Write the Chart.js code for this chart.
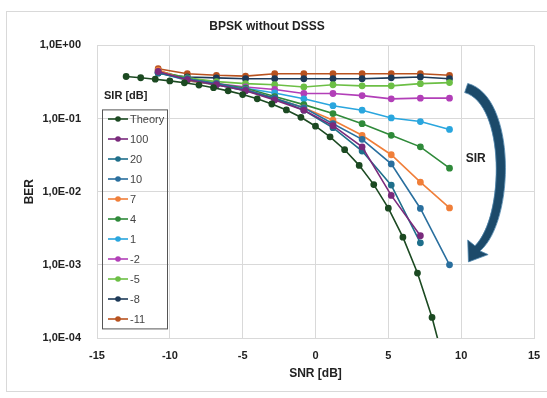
<!DOCTYPE html>
<html>
<head>
<meta charset="utf-8">
<script src="https://cdn.jsdelivr.net/npm/chart.js@4/dist/chart.umd.min.js"></script>
<style>
  html, body { margin: 0; padding: 0; background: #fff; }
  #wrap { position: relative; width: 547px; height: 398px; }
</style>
</head>
<body>
<div id="wrap"><canvas id="berChart" width="547" height="398"></canvas></div>
<script>
// SNR axis values
var snrTheory = [-13, -12, -11, -10, -9, -8, -7, -6, -5, -4, -3, -2, -1, 0, 1, 2, 3, 4, 5, 6, 7, 8, 9];
var snrSim = [-10.8, -8.8, -6.8, -4.8, -2.8, -0.8, 1.2, 3.2, 5.2, 7.2, 9.2];

// BER values
var berTheory = [0.376, 0.361, 0.345, 0.327, 0.308, 0.287, 0.264, 0.239, 0.213, 0.186, 0.158, 0.131, 0.104,
                 0.0786, 0.0563, 0.0375, 0.0229, 0.0125, 0.00595, 0.00239, 0.000773, 0.000191, 0.0000336];
var ber100 = [0.44, 0.34, 0.29, 0.24, 0.18, 0.13, 0.08, 0.041, 0.0089, 0.0025];
var ber20  = [0.42, 0.34, 0.29, 0.24, 0.19, 0.13, 0.075, 0.036, 0.0123, 0.002];
var ber10  = [0.42, 0.35, 0.30, 0.25, 0.19, 0.14, 0.085, 0.052, 0.024, 0.0059, 0.001];
var ber7   = [0.46, 0.33, 0.29, 0.25, 0.19, 0.14, 0.095, 0.059, 0.032, 0.0135, 0.006];
var ber4   = [0.45, 0.35, 0.30, 0.26, 0.20, 0.155, 0.117, 0.085, 0.059, 0.041, 0.021];
var ber1   = [0.43, 0.33, 0.29, 0.26, 0.224, 0.186, 0.15, 0.13, 0.102, 0.091, 0.071];
var berM2  = [0.43, 0.34, 0.30, 0.27, 0.25, 0.22, 0.22, 0.206, 0.186, 0.19, 0.19];
var berM5  = [0.44, 0.36, 0.32, 0.30, 0.29, 0.27, 0.29, 0.28, 0.28, 0.30, 0.31];
var berM8  = [0.42, 0.37, 0.36, 0.35, 0.35, 0.35, 0.35, 0.35, 0.36, 0.37, 0.35];
var berM11 = [0.48, 0.41, 0.39, 0.38, 0.41, 0.41, 0.41, 0.41, 0.41, 0.41, 0.39];

var yTicks = [1e-4, 1e-3, 1e-2, 1e-1, 1];

var seriesLabels = ['Theory', '100', '20', '10', '7', '4', '1', '-2', '-5', '-8', '-11'];
var seriesData = [berTheory, ber100, ber20, ber10, ber7, ber4, ber1, berM2, berM5, berM8, berM11];
var seriesColors = ['#1c4a22', '#7a2a7c', '#1f6f8b', '#2a6f9e', '#f07f3a', '#2f8a3a',
                     '#2aa6de', '#b23fb8', '#6cbf45', '#1d3a58', '#b8521f'];

var font = '"Liberation Sans", Arial, sans-serif';

function toPoints(xs, ys) {
    return ys.map(function(v, i) { return { x: xs[i], y: v }; });
}

var datasets = seriesLabels.map(function(label, i) {
    var xs = i === 0 ? snrTheory : snrSim;
    return {
        label: label,
        data: toPoints(xs, seriesData[i]),
        borderColor: seriesColors[i],
        backgroundColor: seriesColors[i],
        borderWidth: 1.6,
        pointRadius: 2.6,
        pointHoverRadius: 2.6,
        tension: 0
    };
});

function sciLabel(v) {
    var e = Math.round(Math.log10(v));
    var sign = e < 0 ? '-' : '+';
    var a = Math.abs(e);
    return '1,0E' + sign + (a < 10 ? '0' : '') + a;
}

// legend box, outer frame and SIR arrow
var decor = {
    id: 'decor',
    beforeDraw: function(chart) {
        var c = chart.ctx;
        c.save();
        c.strokeStyle = '#d9d9d9';
        c.lineWidth = 1;
        c.strokeRect(6.5, 11.5, 560, 380);
        c.restore();
    },
    afterDraw: function(chart) {
        var c = chart.ctx;
        var a = chart.chartArea;
        var xs = chart.scales.x, ys = chart.scales.y;
        c.save();

        // legend
        var bx = a.left + 5.5, by = a.top + 64.5;
        c.font = 'bold 11px ' + font;
        c.fillStyle = '#222';
        c.textAlign = 'left';
        c.textBaseline = 'middle';
        c.fillText('SIR [dB]', a.left + 7, a.top + 51);
        c.strokeStyle = '#555';
        c.lineWidth = 1;
        c.strokeRect(bx, by, 65, 219);
        c.font = '11px ' + font;
        chart.data.datasets.forEach(function(ds, i) {
            var yy = a.top + 73.6 + i * 20;
            c.strokeStyle = ds.borderColor;
            c.lineWidth = 1.6;
            c.beginPath();
            c.moveTo(a.left + 11, yy);
            c.lineTo(a.left + 31, yy);
            c.stroke();
            c.fillStyle = ds.borderColor;
            c.beginPath();
            c.arc(a.left + 21, yy, 2.8, 0, Math.PI * 2);
            c.fill();
            c.fillStyle = '#444';
            c.fillText(ds.label, a.left + 33, yy + 0.5);
        });

        // curved SIR arrow
        function P(db, lg) { return [xs.getPixelForValue(db), ys.getPixelForValue(Math.pow(10, lg))]; }
        var o0 = P(10.45, -0.52), o1 = P(13.8, -0.70), o2 = P(13.7, -2.40), o3 = P(11.3, -2.81);
        var i0 = P(10.24, -0.645), i1 = P(13.0, -0.80), i2 = P(13.0, -2.33), i3 = P(10.95, -2.74);
        var tip = P(10.5, -2.96), h1 = P(11.85, -2.86), h2 = P(10.45, -2.66);
        c.fillStyle = '#1c4a6a';
        c.strokeStyle = '#4f86ad';
        c.lineWidth = 0.8;
        c.beginPath();
        c.moveTo(o0[0], o0[1]);
        c.bezierCurveTo(o1[0], o1[1], o2[0], o2[1], o3[0], o3[1]);
        c.lineTo(h1[0], h1[1]);
        c.lineTo(tip[0], tip[1]);
        c.lineTo(h2[0], h2[1]);
        c.lineTo(i3[0], i3[1]);
        c.bezierCurveTo(i2[0], i2[1], i1[0], i1[1], i0[0], i0[1]);
        c.closePath();
        c.fill();
        c.stroke();

        c.fillStyle = '#222';
        c.font = 'bold 12px ' + font;
        c.textAlign = 'center';
        var lp = P(11.0, -1.55);
        c.fillText('SIR', lp[0], lp[1]);
        c.restore();
    }
};

var ctx = document.getElementById('berChart').getContext('2d');
new Chart(ctx, {
    type: 'line',
    data: { datasets: datasets },
    plugins: [decor],
    options: {
        responsive: false,
        animation: false,
        layout: { padding: { top: 1, right: 13, left: 0, bottom: 17 } },
        plugins: {
            legend: { display: false },
            tooltip: { enabled: false },
            title: {
                display: true,
                text: 'BPSK without DSSS',
                color: '#222',
                font: { family: font, size: 12, weight: 'bold' },
                padding: { top: 18, bottom: 12 }
            }
        },
        scales: {
            x: {
                type: 'linear',
                min: -15,
                max: 15,
                afterFit: function(s) { s.height = 43; s.paddingRight = 0; s.paddingLeft = 0; },
                ticks: {
                    stepSize: 5,
                    padding: 11,
                    color: '#222',
                    font: { family: font, size: 11, weight: 'bold' }
                },
                grid: { color: '#d9d9d9', drawTicks: false },
                border: { color: '#d9d9d9' },
                title: {
                    display: true,
                    text: 'SNR [dB]',
                    color: '#222',
                    padding: { top: 4, bottom: 0 },
                    font: { family: font, size: 12, weight: 'bold' }
                }
            },
            y: {
                type: 'logarithmic',
                min: 1e-4,
                max: 1,
                afterFit: function(s) { s.width = 97; },
                afterBuildTicks: function(s) {
                    s.ticks = yTicks.map(function(v) { return { value: v }; });
                },
                ticks: {
                    padding: 16,
                    color: '#222',
                    font: { family: font, size: 11, weight: 'bold' },
                    callback: function(value) { return sciLabel(value); }
                },
                grid: { color: '#d9d9d9', drawTicks: false },
                border: { color: '#d9d9d9' },
                title: {
                    display: true,
                    text: 'BER',
                    color: '#222',
                    padding: { top: 22, bottom: 0 },
                    font: { family: font, size: 12, weight: 'bold' }
                }
            }
        }
    }
});
</script>
</body>
</html>
